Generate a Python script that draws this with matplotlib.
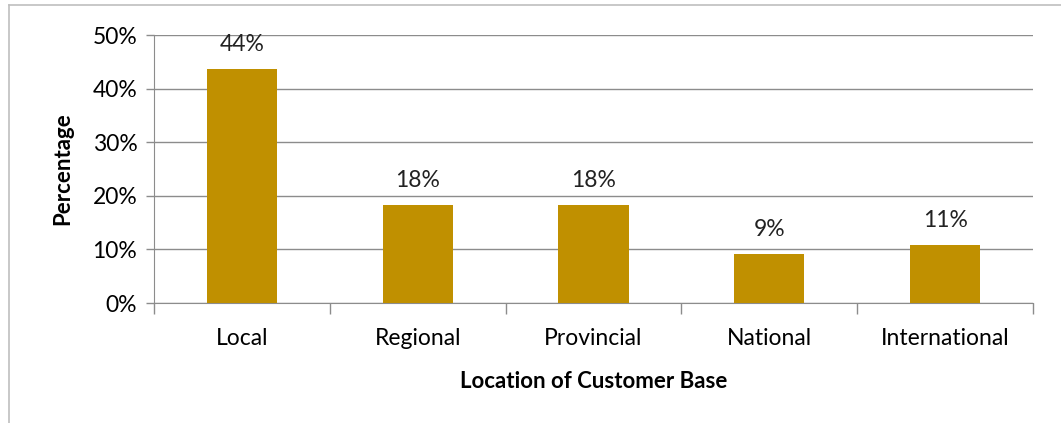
import matplotlib.pyplot as plt
from matplotlib.lines import Line2D

categories = ["Local", "Regional", "Provincial", "National", "International"]
values = [43.7, 18.3, 18.3, 9.1, 10.9]
labels = ["44%", "18%", "18%", "9%", "11%"]

plt.rcParams['font.family'] = ['Lato', 'DejaVu Sans']

fig = plt.figure(figsize=(10.61, 4.23), dpi=100)
ax = fig.add_axes([154 / 1061, 1 - 303 / 423, (1033 - 154) / 1061, (303 - 35) / 423])

x = range(len(categories))
ax.bar(x, values, width=0.4, color="#C09000", zorder=3)
for i, (v, lab) in enumerate(zip(values, labels)):
    ax.annotate(lab, (i, v), xytext=(0, 10), textcoords="offset points",
                ha="center", va="bottom", fontsize=16.5, color="#222222")

ax.set_xlim(-0.5, len(categories) - 0.5)
ax.set_ylim(0, 50)
ax.set_yticks(range(0, 51, 10))
ax.set_yticklabels([f"{t}%" for t in range(0, 51, 10)], fontsize=16.5)
ax.yaxis.grid(True, color="#8c8c8c", linewidth=1, zorder=0)

# category boundaries get the ticks, labels sit in the middle
ax.set_xticks([i - 0.5 for i in range(len(categories) + 1)])
ax.set_xticklabels([])
ax.set_xticks(list(x), minor=True)
ax.set_xticklabels(categories, minor=True, fontsize=16.5)
ax.tick_params(axis="x", which="major", length=8, color="#8c8c8c", width=1)
ax.tick_params(axis="x", which="minor", length=0, pad=18)
ax.tick_params(axis="y", length=6, color="#8c8c8c", width=1, pad=6)

for s in ["top", "right"]:
    ax.spines[s].set_visible(False)
ax.spines["left"].set_color("#8c8c8c")
ax.spines["bottom"].set_color("#8c8c8c")

ax.set_ylabel("Percentage", fontsize=16, fontweight="bold", labelpad=14)
ax.set_xlabel("Location of Customer Base", fontsize=16, fontweight="bold", labelpad=16)

# chart frame (only top and left visible)
fig.add_artist(Line2D([9 / 1061, 9 / 1061], [0, 1 - 5 / 423], color="#bfbfbf", linewidth=1.2))
fig.add_artist(Line2D([9 / 1061, 1], [1 - 5 / 423, 1 - 5 / 423], color="#bfbfbf", linewidth=1.2))

fig.savefig("out.png", dpi=100)
